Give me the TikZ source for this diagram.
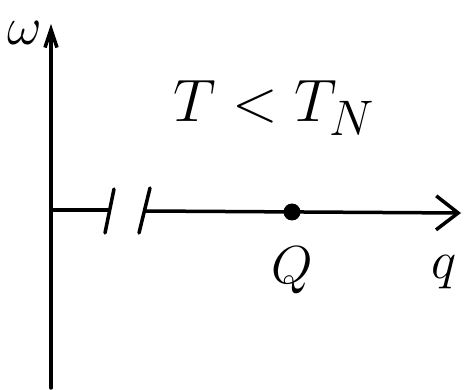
\documentclass[tikz,border=0pt]{standalone}
\usepackage{amsmath}
\usetikzlibrary{arrows.meta}
\usetikzlibrary{positioning}

\begin{document}
\begin{tikzpicture}[x=1pt,y=-1pt,
axis/.style={line width=3.5pt,line cap=round},
slash/.style={line width=3.5pt,line cap=round},
dot/.style={circle,fill,inner sep=0pt,minimum size=17pt},
lbl/.style={inner sep=0pt,font=\Huge,scale=2.15}]
\useasboundingbox (0,0) rectangle (464,390);
\coordinate (bot) at (51,388); \coordinate (top) at (51,24);
\coordinate (o) at (51,210); \coordinate (brkA) at (108,210);
\coordinate (brkB) at (146,211); \coordinate (end) at (461,213);
\node[dot] (Q) at (292,212) {};
\draw[axis,-{Straight Barb[length=18pt,width=12pt,line width=3.5pt]}] (bot)--(top);
\draw[axis] (o)--(brkA);
\draw[axis,-{Straight Barb[length=22pt,width=34pt,line width=3.5pt]}] (brkB)--(end);
\draw[slash] (114,189)--(105,233); \draw[slash] (150,188)--(139,233);
\node[lbl] (w) at (25,33) {$\omega$};
\node[lbl,below=26pt of Q] (Qlbl) {$Q$};
\node[lbl] (qlbl) at (444,272) {$q$};
\node[lbl,scale=1.12] (cond) at (274,108) {$T<T_N$};
\end{tikzpicture}
\end{document}
